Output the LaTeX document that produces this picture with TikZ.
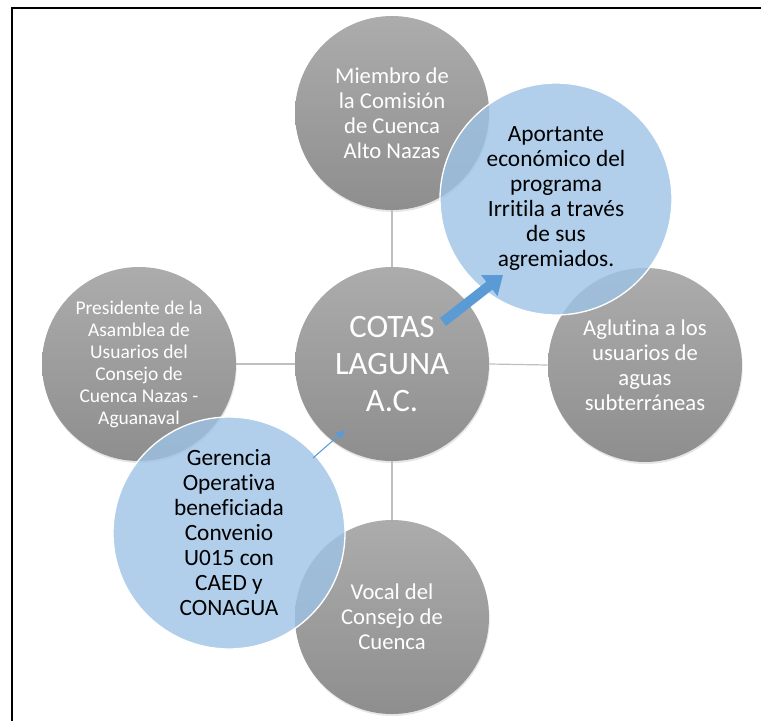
\documentclass[tikz,border=0pt]{standalone}
\usepackage{fontspec}
\setmainfont{Carlito}[Ligatures=NoCommon]
\usetikzlibrary{arrows.meta,shadows}

\definecolor{bubbletop}{RGB}{172,172,172}
\definecolor{bubblebot}{RGB}{142,142,142}
\definecolor{notefill}{RGB}{157,195,230}
\definecolor{arrowblue}{RGB}{91,155,213}
\definecolor{linkgray}{RGB}{191,191,191}

\tikzset{
	bubble/.style={circle, minimum size=145.5pt, inner sep=0pt, top color=bubbletop, bottom color=bubblebot, text=white, align=center, font=\fontsize{17}{18.75}\selectfont, drop shadow={opacity=0.2, shadow xshift=0.5pt, shadow yshift=-1.5pt}},
	note/.style={circle, minimum size=174pt, inner sep=0pt, fill=notefill, fill opacity=0.8, text opacity=1, draw=white, line width=1pt, align=center, font=\fontsize{17.5}{18.75}\selectfont},
	link/.style={linkgray, line width=0.9pt},
	bigarrow/.style={arrowblue, line width=7.5pt, -{Triangle[width=19pt, length=13pt]}},
	thinarrow/.style={arrowblue, line width=0.8pt, -{Triangle[width=6pt, length=7pt]}}
}

\begin{document}
\begin{tikzpicture}[x=0.75pt, y=-0.75pt]
	\useasboundingbox (0,0) rectangle (761,721);
	\draw [line width=1.5pt] (12,721) -- (12,8) -- (761,8);
	% circles round the centre
	\node [bubble] (miembro) at (392,113) {Miembro de\\la Comisión\\de Cuenca\\Alto Nazas};
	\node [bubble, font=\fontsize{14.6}{16.5}\selectfont] (presidente) at (139,364) {Presidente de la\\Asamblea de\\Usuarios del\\Consejo de\\Cuenca Nazas -\\Aguanaval};
	\node [bubble] (aglutina) at (645,365) {Aglutina a los\\usuarios de\\aguas\\subterráneas};
	\node [bubble] (vocal) at (392,617) {Vocal del\\Consejo de\\Cuenca};
	\node [bubble, font=\fontsize{24.5}{27.5}\selectfont] (cotas) at (392,364) {COTAS\\LAGUNA\\A.C.};
	\draw [link] (cotas.north) -- (miembro.south);
	\draw [link] (cotas.west) -- (presidente.east);
	\draw [link] (cotas.east) -- (aglutina.west);
	\draw [link] (cotas.south) -- (vocal.north);
	% notes
	\node [note] (aportante) at (556,199) {Aportante\\económico del\\programa\\Irritila a través\\de sus\\agremiados.};
	\node [note] (gerencia) at (229,533) {Gerencia\\Operativa\\beneficiada\\Convenio\\U015 con\\CAED y\\CONAGUA};
	\draw [bigarrow] ([shift={(51,-42)}]cotas.center) -- ([shift={(-53,76)}]aportante.center);
	\draw [thinarrow] ([shift={(84,-75)}]gerencia.center) -- ([shift={(-47,66)}]cotas.center);
\end{tikzpicture}
\end{document}
